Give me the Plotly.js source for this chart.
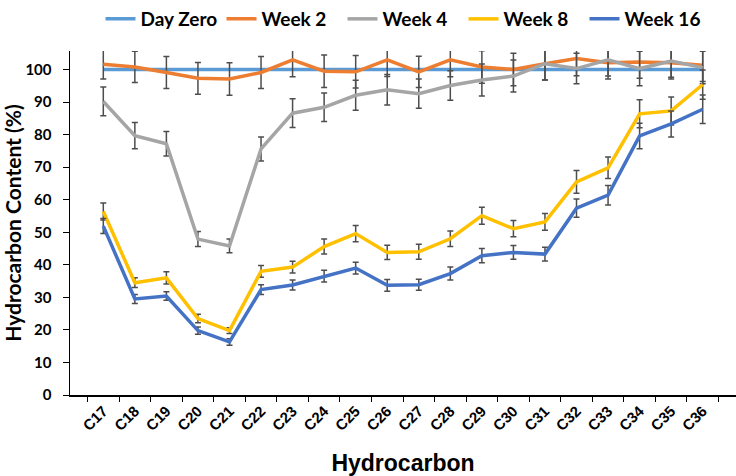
<!DOCTYPE html>
<html>
<head>
<meta charset="utf-8">
<script src="https://cdn.plot.ly/plotly-3.0.1.min.js"></script>
<style>html,body{margin:0;padding:0;background:#fff;}#chart{width:736px;height:476px;}</style>
</head>
<body>
<div id="chart"></div>
<script>
const categories = ["C17","C18","C19","C20","C21","C22","C23","C24","C25","C26","C27","C28","C29","C30","C31","C32","C33","C34","C35","C36"];

const dayZero = [100,100,100,100,100,100,100,100,100,100,100,100,100,100,100,100,100,100,100,100];

const week2 = [101.6,100.8,99.1,97.3,97.1,99.1,103.0,99.5,99.3,103.0,99.3,103.0,100.8,100.0,101.8,103.4,102.1,102.3,102.1,101.3];
const week2Err = [4.5,4.8,4.9,4.9,5.0,4.9,5.2,5.0,5.0,5.1,4.8,5.2,5.0,5.0,5.0,5.3,5.0,5.0,5.0,5.0];

const week4 = [90.2,79.7,77.2,47.9,45.8,75.6,86.6,88.4,92.1,93.8,92.6,95.1,96.8,98.0,101.8,100.3,103.0,100.3,102.6,100.6];
const week4Err = [4.4,4.0,3.8,2.3,2.1,3.7,4.4,4.4,4.6,4.7,4.5,4.5,4.9,4.9,5.0,4.7,5.0,5.3,5.0,5.0];

const week8 = [56.4,34.5,36.0,23.5,19.8,38.0,39.3,45.6,49.6,43.8,44.0,48.0,55.1,51.1,53.2,65.5,69.8,86.4,87.3,95.4];
const week8Err = [2.6,1.5,1.9,1.3,0.9,1.8,1.8,2.3,2.5,2.2,2.3,2.4,2.6,2.5,2.6,3.5,3.3,4.3,4.3,4.5];

const week16 = [51.9,29.5,30.4,19.8,16.3,32.4,33.8,36.5,39.0,33.7,33.9,37.3,42.8,43.8,43.3,57.4,61.4,79.6,83.3,87.8];
const week16Err = [2.3,1.4,1.3,1.1,1.0,1.5,1.5,1.8,1.8,1.8,1.7,2.0,2.2,2.1,2.1,2.8,3.0,3.9,4.0,4.4];

const seriesNames = ["Day Zero","Week 2","Week 4","Week 8","Week 16"];
const seriesColors = ["#5B9BD5","#ED7D31","#A5A5A5","#FFC000","#4472C4"];
const seriesValues = [dayZero, week2, week4, week8, week16];
const seriesErrors = [null, week2Err, week4Err, week8Err, week16Err];

const traces = seriesValues.map((vals, i) => {
  const t = {
    type: "scatter",
    mode: "lines",
    x: categories,
    y: vals,
    name: seriesNames[i],
    line: {color: seriesColors[i], width: 3.5},
    hoverinfo: "skip"
  };
  if (seriesErrors[i]) {
    t.error_y = {type: "data", array: seriesErrors[i], visible: true, color: "#4d4d4d", thickness: 1.5, width: 3};
  }
  return t;
});

const layout = {
  width: 736,
  height: 476,
  paper_bgcolor: "#ffffff",
  plot_bgcolor: "#ffffff",
  margin: {l: 70, r: 0, t: 45, b: 81, pad: 0},
  showlegend: true,
  legend: {
    orientation: "h",
    x: 0.5, xanchor: "center",
    y: 1.094, yanchor: "middle",
    entrywidth: 76,
    entrywidthmode: "pixels",
    font: {family: "Lato, 'Liberation Sans', sans-serif", size: 19, color: "#000", weight: "bold"},
    bgcolor: "rgba(0,0,0,0)"
  },
  xaxis: {
    type: "category",
    tickson: "boundaries",
    ticks: "outside",
    ticklen: 5,
    tickwidth: 1,
    tickcolor: "#000",
    showline: true,
    linecolor: "#000",
    linewidth: 1.5,
    showgrid: false,
    zeroline: false,
    tickangle: -45,
    tickfont: {family: "'Liberation Sans', Arial, sans-serif", size: 15, color: "#000", weight: "bold"},
    title: {text: "Hydrocarbon", font: {family: "'Liberation Sans', Arial, sans-serif", size: 23, color: "#000", weight: "bold"}, standoff: 22},
    automargin: false,
    fixedrange: true
  },
  yaxis: {
    range: [0, 105.7],
    dtick: 10,
    tick0: 0,
    ticks: "outside",
    ticklen: 6,
    tickwidth: 1,
    tickcolor: "#000",
    ticklabelstandoff: 8,
    showline: true,
    linecolor: "#000",
    linewidth: 1.5,
    showgrid: false,
    zeroline: false,
    tickfont: {family: "Lato, 'Liberation Sans', sans-serif", size: 15, color: "#000", weight: "bold"},
    title: {text: "Hydrocarbon Content (%)", font: {family: "Lato, 'Liberation Sans', sans-serif", size: 21, color: "#000", weight: "bold"}, standoff: 8},
    automargin: false,
    fixedrange: true
  }
};

Plotly.newPlot("chart", traces, layout, {staticPlot: true, displayModeBar: false});
</script>
</body>
</html>
